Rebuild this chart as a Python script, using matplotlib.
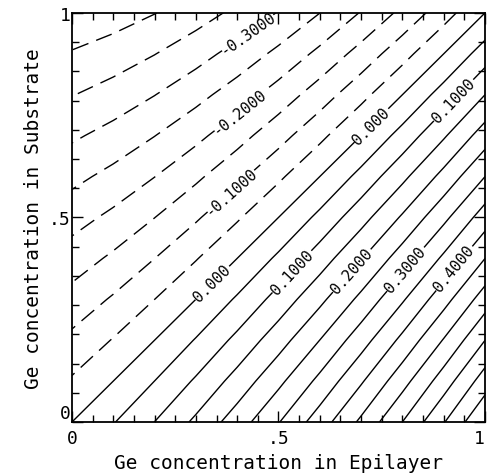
import numpy as np
import matplotlib
matplotlib.use('Agg')
import matplotlib.pyplot as plt
from matplotlib.ticker import MultipleLocator

# Ge fraction grid (epilayer along x, substrate along y)
ge_epi = [0.0, 0.1, 0.2, 0.3, 0.4, 0.5, 0.6, 0.7, 0.8, 0.9, 1.0]
ge_sub = [0.0, 0.1, 0.2, 0.3, 0.4, 0.5, 0.6, 0.7, 0.8, 0.9, 1.0]

# values, one row per substrate fraction
mismatch = [
    [0.000, 0.0471, 0.1004, 0.1599, 0.2256, 0.2975, 0.3756, 0.4599, 0.5504, 0.6471, 0.750],
    [-0.044, 0.000, 0.0502, 0.1066, 0.1692, 0.2380, 0.3130, 0.3942, 0.4816, 0.5752, 0.675],
    [-0.088, -0.0471, 0.000, 0.0533, 0.1128, 0.1785, 0.2504, 0.3285, 0.4128, 0.5033, 0.600],
    [-0.132, -0.0942, -0.0502, 0.000, 0.0564, 0.1190, 0.1878, 0.2628, 0.3440, 0.4314, 0.525],
    [-0.176, -0.1413, -0.1004, -0.0533, 0.000, 0.0595, 0.1252, 0.1971, 0.2752, 0.3595, 0.450],
    [-0.220, -0.1884, -0.1506, -0.1066, -0.0564, 0.000, 0.0626, 0.1314, 0.2064, 0.2876, 0.375],
    [-0.264, -0.2355, -0.2008, -0.1599, -0.1128, -0.0595, 0.000, 0.0657, 0.1376, 0.2157, 0.300],
    [-0.308, -0.2826, -0.2510, -0.2132, -0.1692, -0.1190, -0.0626, 0.000, 0.0688, 0.1438, 0.225],
    [-0.352, -0.3297, -0.3012, -0.2665, -0.2256, -0.1785, -0.1252, -0.0657, 0.000, 0.0719, 0.150],
    [-0.396, -0.3768, -0.3514, -0.3198, -0.2820, -0.2380, -0.1878, -0.1314, -0.0688, 0.000, 0.075],
    [-0.440, -0.4239, -0.4016, -0.3731, -0.3384, -0.2975, -0.2504, -0.1971, -0.1376, -0.0719, 0.000],
]

# labelled contours and the in-between ones
label_levels = [-0.3, -0.2, -0.1, 0.0, 0.1, 0.2, 0.3, 0.4]
label_text = ['-0.3000', '-0.2000', '-0.1000', '0.000',
              '0.1000', '0.2000', '0.3000', '0.4000']
other_levels = [-0.40, -0.35, -0.25, -0.15, -0.05, 0.05, 0.15, 0.25,
                0.35, 0.45, 0.50, 0.55, 0.60, 0.65, 0.70]
label_spots = [(0.43, 0.945), (0.40, 0.765), (0.38, 0.57),
               (0.34, 0.34), (0.72, 0.73), (0.53, 0.37), (0.92, 0.79),
               (0.673, 0.374), (0.80, 0.38), (0.92, 0.38)]

fig = plt.figure(figsize=(4.89, 4.77), dpi=100)
ax = fig.add_axes([0.147, 0.113, 0.845, 0.858])
z = np.array(mismatch)


def dash(levs):
    return [(0, (12, 6)) if l < -1e-9 else 'solid' for l in levs]


ax.contour(ge_epi, ge_sub, z, levels=other_levels, colors='black',
           linewidths=1.0, linestyles=dash(other_levels))
cs = ax.contour(ge_epi, ge_sub, z, levels=label_levels, colors='black',
                linewidths=1.0, linestyles=dash(label_levels))

fmt = {l: t for l, t in zip(cs.levels, label_text)}
labs = ax.clabel(cs, inline=True, fmt=fmt, fontsize=11,
                 manual=label_spots, inline_spacing=2)
for t in labs:
    t.set_family('DejaVu Sans Mono')

ax.set_xlim(0, 1)
ax.set_ylim(0, 1)
ax.set_xticks([0, 0.5, 1])
ax.set_xticklabels(['0', '.5', '1'])
ax.set_yticks([0, 0.5, 1])
ax.set_yticklabels(['0', '.5', '1'])
ax.xaxis.set_minor_locator(MultipleLocator(0.05))
ax.yaxis.set_minor_locator(MultipleLocator(1 / 14))
ax.tick_params(which='both', direction='in', top=True, right=True, width=1)
ax.tick_params(which='major', length=8, labelsize=13)
ax.tick_params(axis='x', which='major', pad=5)
ax.tick_params(axis='y', which='major', pad=1)
ax.tick_params(which='minor', length=5)
for t in ax.get_xticklabels() + ax.get_yticklabels():
    t.set_family('DejaVu Sans Mono')
ax.get_xticklabels()[-1].set_horizontalalignment('right')
ax.get_yticklabels()[0].set_verticalalignment('bottom')
for s in ax.spines.values():
    s.set_linewidth(1.3)

ax.set_xlabel('Ge concentration in Epilayer', family='DejaVu Sans Mono',
              fontsize=14, labelpad=4)
ax.set_ylabel('Ge concentration in Substrate', family='DejaVu Sans Mono',
              fontsize=14, labelpad=4)

fig.savefig('out.png', dpi=100)
